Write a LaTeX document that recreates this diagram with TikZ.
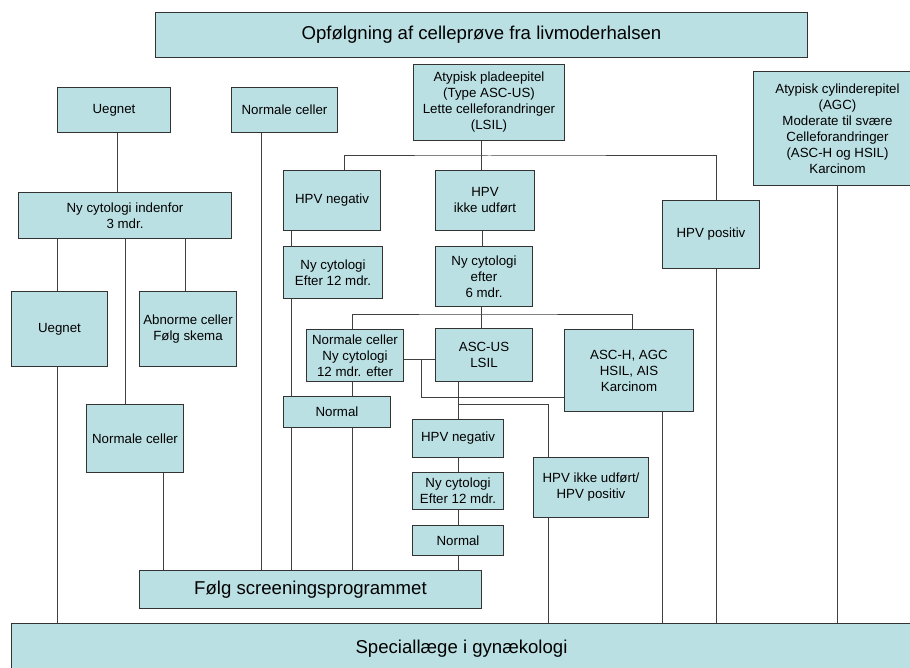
\documentclass[tikz,border=0pt]{standalone}
\usepackage{fontspec}
\setmainfont{Liberation Sans}

\definecolor{boxfill}{RGB}{187,224,227}
\tikzset{
  box/.style={draw=black!80, fill=boxfill, line width=1pt, align=center, anchor=north west,
    inner sep=1pt, font=\fontsize{13.3}{16}\selectfont},
  bigbox/.style={box, font=\fontsize{18.6}{22}\selectfont},
  link/.style={draw=black!75, line width=1pt},
}

\begin{document}
\begin{tikzpicture}[x=1pt, y=-1pt]

  \useasboundingbox (0,0) rectangle (910,668);
  \clip (0,0) rectangle (910,668);

  % Nodes
  \node (title) [bigbox, minimum width=652pt, minimum height=45pt] at (155,12) {Opfølgning af celleprøve fra livmoderhalsen};
  \node (uegnet) [box, minimum width=113pt, minimum height=45pt] at (57,87) {Uegnet};
  \node (normale) [box, minimum width=106pt, minimum height=45pt] at (231,87) {Normale celler};
  \node (pladeepitel) [box, minimum width=151pt, minimum height=76pt] at (413,64) {Atypisk pladeepitel\\(Type ASC-US)\\Lette celleforandringer\\(LSIL)};
  \node (cylinder) [box, minimum width=168pt, minimum height=114pt] at (753,71) {Atypisk cylinderepitel\\(AGC)\\Moderate til svære\\Celleforandringer\\(ASC-H og HSIL)\\Karcinom};
  \node (hpvneg) [box, minimum width=97pt, minimum height=60pt] at (283,170) {HPV negativ};
  \node (ikkeudf) [box, minimum width=99pt, minimum height=60pt] at (435,170) {HPV\\ikke udført};
  \node (hpvpos) [box, minimum width=97pt, minimum height=68pt] at (662,200) {HPV positiv};
  \node (nycyt3) [box, minimum width=213pt, minimum height=46pt] at (18,192) {Ny cytologi indenfor\\3 mdr.};
  \node (nycyt12) [box, minimum width=99pt, minimum height=52pt] at (283,246) {Ny cytologi\\Efter 12 mdr.};
  \node (nycyt6) [box, minimum width=97pt, minimum height=60pt] at (435,246) {Ny cytologi\\efter\\6 mdr.};
  \node (uegnet2) [box, minimum width=96pt, minimum height=75pt] at (11,291) {Uegnet};
  \node (abnorme) [box, minimum width=97pt, minimum height=75pt] at (139,291) {Abnorme celler\\Følg skema};
  \node (normale2) [box, minimum width=97pt, minimum height=68pt] at (86,404) {Normale celler};
  \node (normny) [box, minimum width=97pt, minimum height=52pt] at (306,329) {Normale celler\\Ny cytologi\\12 mdr. efter};
  \node (ascus) [box, minimum width=97pt, minimum height=53pt] at (435,328) {ASC-US\\LSIL};
  \node (asch) [box, minimum width=129pt, minimum height=82pt] at (564,329) {ASC-H, AGC\\HSIL, AIS\\Karcinom};
  \node (normal1) [box, minimum width=107pt, minimum height=31pt] at (283,396) {Normal};
  \node (hpvneg2) [box, minimum width=91pt, minimum height=38pt] at (412,419) {HPV negativ};
  \node (hpvikke2) [box, minimum width=115pt, minimum height=60pt] at (533,457) {HPV ikke udført/\\HPV positiv};
  \node (nycyt12b) [box, minimum width=91pt, minimum height=37pt] at (412,472) {Ny cytologi\\Efter 12 mdr.};
  \node (normal2) [box, minimum width=91pt, minimum height=30pt] at (412,525) {Normal};
  \node (folg) [bigbox, minimum width=342pt, minimum height=38pt] at (139,570) {Følg screeningsprogrammet};
  \node (special) [bigbox, minimum width=900pt, minimum height=50pt] at (11,623) {Speciallæge i gynækologi};

  % Lines, left part
  \draw[link] ([xshift=3.5pt]uegnet.south) -- ([xshift=3.5pt]uegnet.south |- nycyt3.north);
  \draw[link] ([xshift=-2pt]uegnet2.north |- nycyt3.south) -- ([xshift=-2pt]uegnet2.north);
  \draw[link] (nycyt3.south) -- (nycyt3.south |- normale2.north);
  \draw[link] ([xshift=-2.5pt]abnorme.north |- nycyt3.south) -- ([xshift=-2.5pt]abnorme.north);
  \draw[link] ([xshift=-2pt]uegnet2.south) -- ([xshift=-2pt]uegnet2.south |- special.north);
  \draw[link] ([xshift=28.5pt]normale2.south) -- ([xshift=28.5pt]normale2.south |- folg.north);
  \draw[link] ([xshift=-23pt]normale.south) -- ([xshift=-23pt]normale.south |- folg.north);

  % Lines, ASC-US / LSIL
  \draw[link] ([xshift=-3.5pt]ikkeudf.north |- pladeepitel.south) -- ([xshift=-3.5pt]ikkeudf.north);
  \draw[link] ([xshift=12.5pt]hpvneg.north) |- ([yshift=-15pt]pladeepitel.south) -| ([xshift=5.5pt]hpvpos.north);
  \draw[link] ([xshift=8pt]hpvneg.south west) -- ([xshift=8pt]nycyt12.north west);
  \draw[link] ([xshift=8pt]nycyt12.south west) -- ([xshift=8pt]normal1.north west);
  \draw[link] ([xshift=8pt]normal1.south west) -- ([xshift=8pt]normal1.south west |- folg.north);
  \draw[link] ([xshift=-3pt]ikkeudf.south) -- ([xshift=-3pt]ikkeudf.south |- nycyt6.north);
  \draw[link] ([xshift=-2.5pt]nycyt6.south) -- ([xshift=-2.5pt]ascus.north);
  \draw[link] ([xshift=-2.5pt]normny.north) |- ([yshift=-7pt]nycyt6.south) -| ([xshift=3.5pt]asch.north);
  \draw[link] ([xshift=-2.5pt]normny.south) -- ([xshift=-2.5pt]normny.south |- normal1.north);
  \draw[link] ([xshift=15.5pt]normal1.south) -- ([xshift=15.5pt]normal1.south |- folg.north);
  \draw[link] ([yshift=-4pt]normny.east) -- ([yshift=-4pt]normny.east -| ascus.west);
  \draw[link] ([xshift=17pt,yshift=-4pt]normny.east) |- ([yshift=-27pt]asch.west);
  \draw[link] (hpvneg2.north |- ascus.south) -- (hpvneg2.north);
  \draw[link] ([yshift=15pt]hpvneg2.north) -| ([xshift=15pt]hpvikke2.north west);
  \draw[link] (hpvneg2.south) -- (nycyt12b.north);
  \draw[link] (nycyt12b.south) -- (normal2.north);
  \draw[link] (normal2.south) -- (normal2.south |- folg.north);

  % Lines to Speciallæge
  \draw[link] ([xshift=15pt]hpvikke2.south west) -- ([xshift=15pt]hpvikke2.south west |- special.north);
  \draw[link] ([xshift=33.5pt]asch.south) -- ([xshift=33.5pt]asch.south |- special.north);
  \draw[link] ([xshift=5.5pt]hpvpos.south) -- ([xshift=5.5pt]hpvpos.south |- special.north);
  \draw[link] (cylinder.south) -- (cylinder.south |- special.north);

\end{tikzpicture}
\end{document}
